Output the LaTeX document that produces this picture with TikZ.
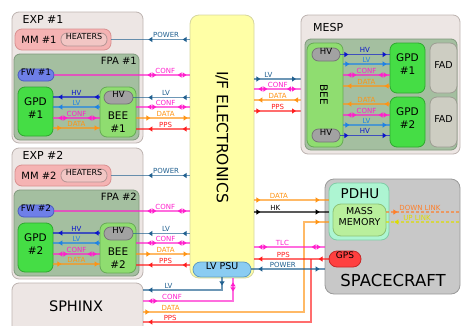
\documentclass[tikz,border=0pt]{standalone}
\usepackage{fontspec}
\setmainfont{DejaVu Sans}
\usetikzlibrary{positioning,arrows.meta,calc,fit,decorations.markings}

\definecolor{frmfill}{HTML}{EDE6E4}
\definecolor{frmline}{HTML}{BDB3B0}
\definecolor{mmfill}{HTML}{F5B3B3}
\definecolor{mmline}{HTML}{D99090}
\definecolor{heatfill}{HTML}{F2C6C4}
\definecolor{heatline}{HTML}{B39494}
\definecolor{fpafill}{HTML}{A4BFA0}
\definecolor{fpaline}{HTML}{80997D}
\definecolor{fwfill}{HTML}{6E7FE8}
\definecolor{fwline}{HTML}{4A5AC0}
\definecolor{gpdfill}{HTML}{45DD45}
\definecolor{gpdline}{HTML}{2FA82F}
\definecolor{beefill}{HTML}{8FDD70}
\definecolor{beeline}{HTML}{66AA55}
\definecolor{hvfill}{HTML}{A2A2A2}
\definecolor{hvline}{HTML}{777777}
\definecolor{ifefill}{HTML}{FFFFA6}
\definecolor{ifeline}{HTML}{D6D6A0}
\definecolor{psufill}{HTML}{8ACCF2}
\definecolor{psuline}{HTML}{5E9CC4}
\definecolor{fadfill}{HTML}{CDCDC2}
\definecolor{fadline}{HTML}{9C9C92}
\definecolor{scfill}{HTML}{C8C8C8}
\definecolor{scline}{HTML}{9A9A9A}
\definecolor{pdhufill}{HTML}{ADF5D2}
\definecolor{pdhuline}{HTML}{80CCA6}
\definecolor{memfill}{HTML}{B9EF9C}
\definecolor{memline}{HTML}{8CC275}
\definecolor{gpsfill}{HTML}{FF4040}
\definecolor{gpsline}{HTML}{C82828}
\definecolor{cpow}{HTML}{1F5F8F}
\definecolor{chv}{HTML}{0A14CC}
\definecolor{clv}{HTML}{1E82E6}
\definecolor{cconf}{HTML}{FF1ECC}
\definecolor{cdata}{HTML}{FF9414}
\definecolor{cpps}{HTML}{FF1E1E}
\definecolor{cdown}{HTML}{FF7F2A}
\definecolor{cup}{HTML}{DDDD00}

\tikzset{
  tri/.tip={Triangle[length=4pt,width=5pt]},
  ar/.style={postaction={decorate,decoration={markings,
      mark=at position #1 with {\arrow[opacity=1]{tri}}}}},
  al/.style={postaction={decorate,decoration={markings,
      mark=at position #1 with {\arrowreversed[opacity=1]{tri}}}}},
  sig/.style={line width=1.3pt, draw opacity=.65},
  wpow/.style={sig, cpow},
  whv/.style={sig, chv},
  wlv/.style={sig, clv},
  wconf/.style={sig, cconf},
  wdata/.style={sig, cdata},
  wpps/.style={sig, cpps},
  whk/.style={sig, black},
  wdown/.style={sig, cdown, dash pattern=on 3pt off 2pt},
  wup/.style={sig, cup, dash pattern=on 3pt off 2pt},
  lab/.style={above, inner sep=1pt, font=\fontsize{7}{8}\selectfont},
  blk/.style={rounded corners=#1, line width=.8pt, inner sep=0pt, align=center},
  frame/.style={blk=7pt, draw=frmline, fill=frmfill},
  mmbox/.style={blk=7pt, draw=mmline, fill=mmfill},
  heat/.style={blk=6pt, draw=heatline, fill=heatfill, font=\fontsize{8}{9}\selectfont},
  fpa/.style={blk=6pt, draw=fpaline, fill=fpafill},
  fwbox/.style={blk=6pt, draw=fwline, fill=fwfill, font=\fontsize{9}{10}\selectfont},
  gpd/.style={blk=7pt, draw=gpdline, fill=gpdfill, font=\fontsize{10.5}{13}\selectfont},
  bee/.style={blk=7pt, draw=beeline, fill=beefill},
  hvbox/.style={blk=6.5pt, draw=hvline, fill=hvfill, font=\fontsize{8.5}{9}\selectfont},
  fad/.style={blk=7pt, draw=fadline, fill=fadfill, font=\fontsize{9.5}{10}\selectfont},
  txt/.style={inner sep=0pt, align=center, font=\fontsize{#1}{#1}\selectfont},
}

\begin{document}
\begin{tikzpicture}[x=1pt, y=-1pt]
  \useasboundingbox (0,0) rectangle (461,325);
  \clip (0,0) rectangle (461,325);

  \node[blk=9pt, draw=ifeline, fill=ifefill, fit={(190,15) (254,278)}] (ife) {};
  \node[txt=15.5, rotate=-90] at (222,137) {I/F ELECTRONICS};
  \node[blk=7.5pt, draw=psuline, fill=psufill, font=\fontsize{9.5}{10}\selectfont,
    fit={(193,262) (251,277)}] (psu) {LV PSU};

  \foreach \i/\d in {1/0, 2/136}{
    \node[frame, fit={(12,12+\d) (143,143+\d)}] (exp\i) {};
    \node[txt=11] at (43,19+\d) {EXP \#\i};
    \node[mmbox, fit={(15,29+\d) (111,50+\d)}] (mm\i) {};
    \node[txt=10] at (39,40+\d) {MM \#\i};
    \node[heat, fit={(61,33+\d) (107,46+\d)}] (ht\i) {HEATERS};
    \node[fpa, fit={(14,54+\d) (139,140+\d)}] (fpa\i) {};
    \node[txt=10, anchor=east] at (137,61+\d) {FPA \#\i};
    \node[fwbox, fit={(18,69+\d) (54,81+\d)}] (fw\i) {FW \#\i};
    \node[gpd, fit={(18,87+\d) (53,136+\d)}] (gpd\i) {GPD\\\#\i};
    \node[bee, fit={(100,87+\d) (136,137+\d)}] (bee\i) {};
    \node[hvbox, fit={(104,91+\d) (133,104+\d)}] (hv\i) {HV};
    \node[txt=10.5] at (118,122+\d) {BEE\\[2pt]\#\i};

    \draw[whv, al=5pt, al=-5pt] (gpd\i.east |- 0,97+\d) -- (bee\i.west |- 0,97+\d)
      node[lab, midway] {HV};
    \draw[wlv, al=5pt, al=-5pt] (gpd\i.east |- 0,107+\d) -- (bee\i.west |- 0,107+\d)
      node[lab, midway] {LV};
    \draw[wconf, al=5pt, ar=14pt, al=-12pt, ar=-3pt] (gpd\i.east |- 0,118+\d) -- (bee\i.west |- 0,118+\d)
      node[lab, midway] {CONF};
    \draw[wdata, ar=8pt, ar=-1pt] (gpd\i.east |- 0,128+\d) -- (bee\i.west |- 0,128+\d)
      node[lab, midway] {DATA};

    \draw[wpow, al=37pt, al=-7pt] (mm\i.east) -- (ife.west |- mm\i.east)
      node[lab, pos=.7] {POWER};
    \draw[wconf, al=93pt, ar=102pt, al=-12pt, ar=-3pt] (fw\i.east) -- (ife.west |- fw\i.east)
      node[lab, pos=.82] {CONF};
    \draw[wpow, al=15pt, al=-7pt] (hv\i.east) -- (ife.west |- hv\i.east)
      node[lab, pos=.58] {LV};
    \draw[wconf, al=11pt, ar=20pt, al=-12pt, ar=-3pt] (bee\i.east |- 0,107+\d) -- (ife.west |- 0,107+\d)
      node[lab, pos=.55] {CONF};
    \draw[wdata, ar=14pt, ar=-2pt] (bee\i.east |- 0,118+\d) -- (ife.west |- 0,118+\d)
      node[lab, pos=.55] {DATA};
    \draw[wpps, al=12pt, al=-7pt] (bee\i.east |- 0,129+\d) -- (ife.west |- 0,129+\d)
      node[lab, pos=.55] {PPS};
  }

  \node[frame, fit={(12,283) (143,340)}] (sphinx) {};
  \node[txt=14.5] at (76,306) {SPHINX};

  \draw[wpow, ar=8pt, ar=-5pt] (psu.south) -- (psu.south |- 0,290) -- (sphinx.east |- 0,290)
    node[lab, pos=.68] {LV};
  \draw[wconf, al=4pt, ar=13pt, al=-14pt, ar=-5pt] (ife.south -| 233,0) -- (233,301) -- (sphinx.east |- 0,301)
    node[lab, pos=.68] {CONF};

  % mesp
  \draw[wpow, ar=6pt, ar=-5pt] (ife.east |- 0,79) -- (301,79)
    node[lab, pos=.3] {LV};
  \draw[wconf, al=4pt, ar=13pt, al=-14pt, ar=-5pt] (ife.east |- 0,89) -- (301,89)
    node[lab, pos=.5] {CONF};
  \draw[wdata, al=4pt, al=-7pt] (ife.east |- 0,100) -- (301,100)
    node[lab, pos=.5] {DATA};
  \draw[wpps, ar=6pt, ar=-5pt] (ife.east |- 0,111) -- (301,111)
    node[lab, pos=.5] {PPS};

  \node[frame, fit={(301,15) (460,154)}] (mesp) {};
  \node[txt=11, anchor=west] at (313,27) {MESP};
  \node[fpa, fit={(305,39) (457,150)}] (fpa3) {};
  \node[bee, fit={(307,43) (343,147)}] (mbee) {};
  \node[hvbox, fit={(312,48) (340,61)}] (mhv1) {HV};
  \node[hvbox, fit={(312,129) (340,142)}] (mhv2) {HV};
  \node[txt=10.5, rotate=-90] at (324,95) {BEE};
  \node[gpd, fit={(390,43) (425,93)}] (mgpd1) {GPD\\\#1};
  \node[gpd, fit={(390,97) (425,147)}] (mgpd2) {GPD\\\#2};
  \node[fad, fit={(430,43) (457,93)}] (fad1) {FAD};
  \node[fad, fit={(430,97) (457,147)}] (fad2) {FAD};

  \draw[whv, ar=8pt, ar=-3pt] (mhv1.east) -- (mgpd1.west |- mhv1.east) node[lab, midway] {HV};
  \draw[wlv, ar=6pt, ar=-3pt] (mbee.east |- 0,64) -- (mgpd1.west |- 0,64) node[lab, midway] {LV};
  \draw[wconf, al=4pt, ar=13pt, al=-11pt, ar=-2pt] (mbee.east |- 0,75) -- (mgpd1.west |- 0,75)
    node[lab, midway] {CONF};
  \draw[wdata, al=4pt, al=-5pt] (mbee.east |- 0,86) -- (mgpd1.west |- 0,86) node[lab, midway] {DATA};
  \draw[wdata, al=4pt, al=-5pt] (mbee.east |- 0,104) -- (mgpd2.west |- 0,104) node[lab, midway] {DATA};
  \draw[wconf, al=4pt, ar=13pt, al=-11pt, ar=-2pt] (mbee.east |- 0,115) -- (mgpd2.west |- 0,115)
    node[lab, midway] {CONF};
  \draw[wlv, ar=6pt, ar=-3pt] (mbee.east |- 0,125) -- (mgpd2.west |- 0,125) node[lab, midway] {LV};
  \draw[whv, ar=8pt, ar=-3pt] (mhv2.east) -- (mgpd2.west |- mhv2.east) node[lab, midway] {HV};

  % spacecraft
  \node[blk=9pt, draw=scline, fill=scfill, fit={(325,179) (460,294)}] (sc) {};
  \node[txt=16.5] at (393,280) {SPACECRAFT};
  \node[blk=8pt, draw=pdhuline, fill=pdhufill, fit={(329,183) (389,240)}] (pdhu) {};
  \node[txt=13.5] at (360,194) {PDHU};
  \node[blk=8pt, draw=memline, fill=memfill, font=\fontsize{9.5}{11.5}\selectfont,
    fit={(333,204) (386,236)}] (mmem) {MASS\\MEMORY};
  \node[blk=8pt, draw=gpsline, fill=gpsfill, font=\fontsize{9}{10}\selectfont,
    fit={(329,251) (361,267)}] (gps) {GPS};

  \draw[wdata, ar=6pt, ar=-9pt] (ife.east |- 0,200) -- (pdhu.west |- 0,200) node[lab, pos=.33] {DATA};
  \draw[whk, ar=6pt, ar=-9pt] (ife.east |- 0,212) -- (pdhu.west |- 0,212) node[lab, pos=.28] {HK};
  \draw[wdata, ar=6pt, ar=-9pt] (sphinx.east |- 0,312) -- node[lab, pos=.17] {DATA} (304,312)
    -- (304,222) -- (pdhu.west |- 0,222);
  \draw[wconf, al=4pt, ar=13pt, al=-13pt, ar=-4pt] (ife.east |- 0,247) -- (sc.west |- 0,247)
    node[lab, pos=.4] {TLC};
  \draw[wpps, al=4pt, al=-10pt] (ife.east |- gps.west) -- (gps.west) node[lab, pos=.39] {PPS};
  \draw[wpps, ar=-5pt] (gps.west -| 311,0) -- (311,322) -- (sphinx.east |- 0,322)
    node[lab, pos=.84] {PPS};
  \draw[wpow, al=7pt, ar=-5pt] (psu.east |- 0,269) -- (sc.west |- 0,269) node[lab, pos=.43] {POWER};

  \coordinate (dl) at (461,212);
  \coordinate (ul) at (461,222);
  \draw[wdown, ar=11pt] (mmem.east |- dl) -- (dl) node[lab, pos=.45] {DOWN LINK};
  \draw[wup, al=8pt] (mmem.east |- ul) -- (ul) node[lab, pos=.41] {UP LINK};
\end{tikzpicture}
\end{document}
